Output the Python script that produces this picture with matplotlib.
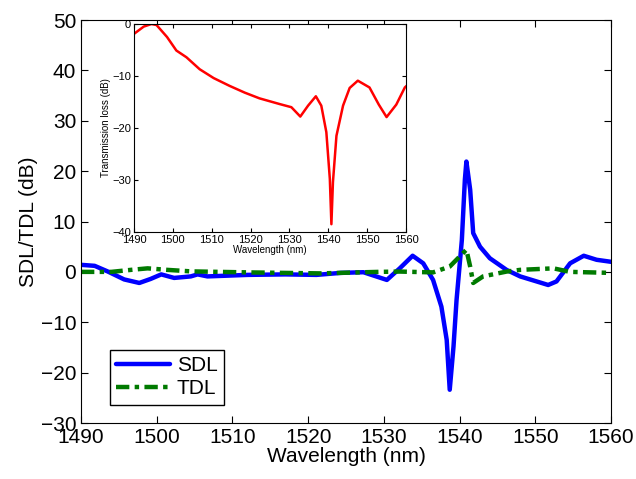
import numpy as np
import matplotlib
matplotlib.use('Agg')
import matplotlib.pyplot as plt

plt.rcParams['font.family'] = ['Liberation Sans', 'DejaVu Sans']

# SDL (blue)
sdl_x = [1490, 1491.8, 1493.5, 1495.7, 1497.7, 1499.2, 1500.6, 1502.3, 1504.5, 1505.4,
         1506.7, 1512.0, 1517.0, 1521.1, 1524.3, 1527.3, 1530.4, 1532.1, 1533.8, 1535.2,
         1536.5, 1537.6, 1538.3, 1538.7, 1539.2, 1539.6, 1540.3, 1540.7, 1540.9, 1541.4,
         1541.8, 1542.7, 1544.0, 1546.2, 1548.0, 1551.7, 1552.8, 1554.6, 1556.4, 1558.1,
         1560]
sdl_y = [1.4, 1.2, 0.1, -1.5, -2.2, -1.4, -0.5, -1.2, -0.9, -0.5,
         -0.9, -0.6, -0.5, -0.6, -0.2, -0.07, -1.6, 0.7, 3.2, 1.7,
         -1.6, -6.9, -13.5, -23.4, -14.8, -5.6, 6.3, 18.3, 21.9, 16.3,
         7.7, 5.0, 2.7, 0.4, -0.9, -2.6, -1.9, 1.7, 3.2, 2.4,
         2.0]

# TDL (green)
tdl_x = [1490, 1494.0, 1496.6, 1498.8, 1501.4, 1504.5, 1512, 1521.6, 1529.3, 1532.1,
         1536.5, 1538.7, 1540.9, 1541.4, 1541.8, 1543.1, 1546.2, 1548.0, 1552.4, 1554.6,
         1560]
tdl_y = [0.0, 0.0, 0.4, 0.7, 0.4, 0.1, -0.1, -0.3, 0.0, 0.06,
         -0.1, 1.05, 4.4, 1.05, -2.2, -0.9, 0.06, 0.4, 0.7, 0.0,
         -0.2]

# transmission loss (inset, red)
tl_x = [1490, 1492.5, 1494.5, 1495.8, 1498.5, 1500.9, 1503.5, 1506.9, 1510.5, 1514.6,
        1518.5, 1522.3, 1527.5, 1530.5, 1532.8, 1534.8, 1536.8, 1538.2, 1539.5, 1540.4,
        1540.8, 1541.2, 1542.1, 1543.8, 1545.5, 1547.6, 1550.6, 1553.0, 1555.0, 1557.5,
        1559.7, 1560]
tl_y = [-1.9, -0.5, 0.0, -0.2, -2.5, -5.1, -6.4, -8.7, -10.4, -11.9,
        -13.2, -14.3, -15.4, -16.0, -17.8, -15.7, -13.9, -15.7, -20.8, -29.8,
        -38.5, -30.4, -21.5, -15.7, -12.3, -10.9, -12.2, -15.5, -17.9, -15.5,
        -12.2, -12.0]

fig = plt.figure(figsize=(6.36, 4.79), dpi=100)
ax = fig.add_axes([81/636, 1-423/479, 530/636, 403/479])
ax.plot(sdl_x, sdl_y, color='#0000ff', lw=3.2, label='SDL',
        solid_joinstyle='round', solid_capstyle='round')
ax.plot(tdl_x, tdl_y, color='#007a00', lw=3.2, dashes=[3, 1.2, 1, 1.2], label='TDL',
        dash_joinstyle='round')
ax.set_xlim(1490, 1560)
ax.set_ylim(-30, 50)
ax.set_xticks(np.arange(1490, 1561, 10))
ax.set_yticks(np.arange(-30, 51, 10))
ax.tick_params(direction='in', top=True, right=True, labelsize=15, length=5)
ax.set_xlabel('Wavelength (nm)', fontsize=15, labelpad=0)
ax.set_ylabel('SDL/TDL (dB)', fontsize=15, labelpad=2)
ax.legend(loc='lower left', fontsize=15, frameon=True, fancybox=False,
          edgecolor='black', framealpha=1, handlelength=2.6, borderpad=0.3,
          labelspacing=0.2, handletextpad=0.3, bbox_to_anchor=(0.035, 0.02))

ins = fig.add_axes([134/636, 1-232/479, 272/636, 208/479])
ins.plot(tl_x, tl_y, color='#ff0000', lw=1.8, solid_joinstyle='round')
ins.set_xlim(1490, 1560)
ins.set_ylim(-40, 0)
ins.set_xticks(np.arange(1490, 1561, 10))
ins.set_yticks(np.arange(-40, 1, 10))
ins.tick_params(direction='in', top=True, right=True, labelsize=8, length=3, pad=2)
ins.set_xlabel('Wavelength (nm)', fontsize=7, labelpad=0)
ins.set_ylabel('Transmission loss (dB)', fontsize=7, labelpad=1)

fig.savefig('out.png', dpi=100)
